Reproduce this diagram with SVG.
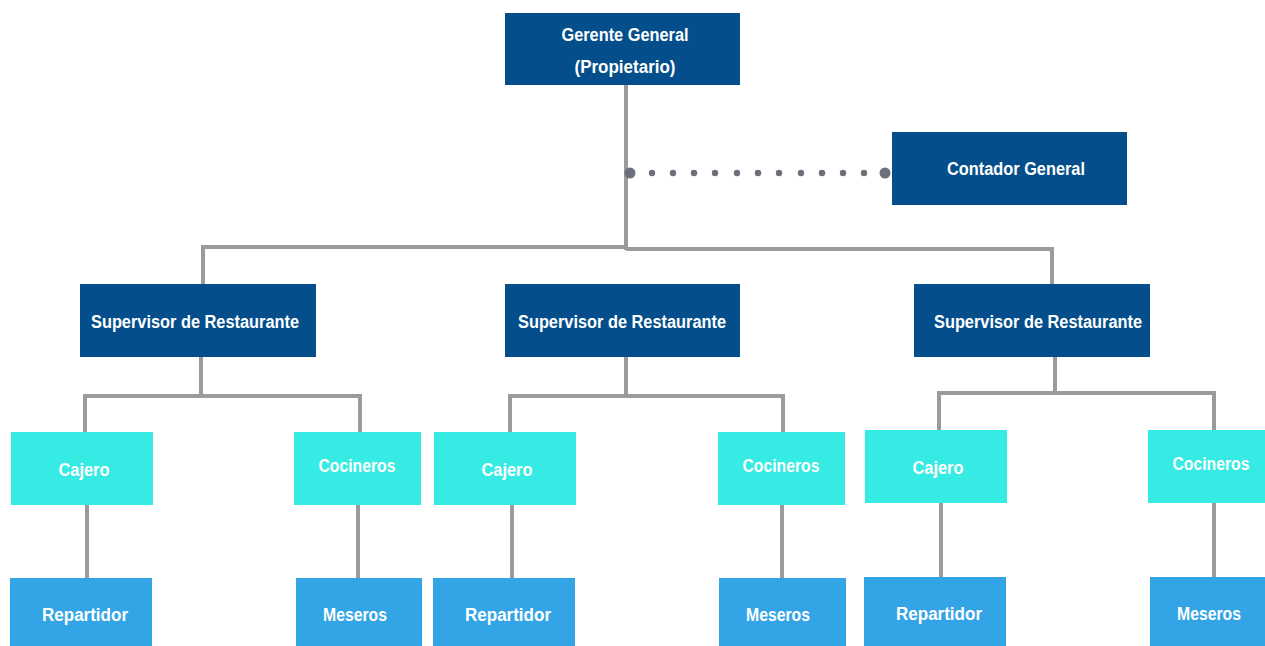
<svg xmlns="http://www.w3.org/2000/svg" width="1265" height="646" viewBox="0 0 1265 646">
<style>
.dk{fill:#044f8b}
.cy{fill:#36ebe3}
.lb{fill:#33a5e7}
.t{font-family:"Liberation Sans",Arial,sans-serif;font-weight:bold;font-size:18px;fill:#fff;text-anchor:middle}
.ln{stroke:#9b9b9b;stroke-width:4;fill:none}
.dot{fill:#6d707a}
</style>
<rect width="1265" height="646" fill="#fff"/>
<g id="connectors">
<path class="ln" d="M626 85V250M203 285V247H626M626 249H1052V285"/>
<path class="ln" d="M201 357V396M85 432V396H360V432M87 505V578M358 505V578"/>
<path class="ln" d="M626 357V396M510 432V396H783V432M512 505V578M782 505V578"/>
<path class="ln" d="M1055 357V393M939 430V393H1214V430M941 503V577M1214 503V577"/>
<g class="dot">
<circle cx="630" cy="173" r="5.5"/><circle cx="885" cy="173" r="5.5"/>
<circle cx="652" cy="173" r="3.2"/><circle cx="673" cy="173" r="3.2"/><circle cx="694" cy="173" r="3.2"/><circle cx="715" cy="173" r="3.2"/><circle cx="737" cy="173" r="3.2"/><circle cx="758" cy="173" r="3.2"/><circle cx="779" cy="173" r="3.2"/><circle cx="801" cy="173" r="3.2"/><circle cx="822" cy="173" r="3.2"/><circle cx="843" cy="173" r="3.2"/><circle cx="864" cy="173" r="3.2"/>
</g>
</g>
<g id="gerente"><rect class="dk" x="505" y="13" width="235" height="72"/><text class="t" x="625" y="41" textLength="127" lengthAdjust="spacingAndGlyphs">Gerente General</text><text class="t" x="625" y="73" textLength="101" lengthAdjust="spacingAndGlyphs">(Propietario)</text></g>
<g id="contador"><rect class="dk" x="892" y="132" width="235" height="73"/><text class="t" x="1016" y="175" textLength="138" lengthAdjust="spacingAndGlyphs">Contador General</text></g>
<g id="sup1"><rect class="dk" x="80" y="284" width="236" height="73"/><text class="t" x="195" y="328" textLength="208" lengthAdjust="spacingAndGlyphs">Supervisor de Restaurante</text></g>
<g id="sup2"><rect class="dk" x="505" y="284" width="235" height="73"/><text class="t" x="622" y="328" textLength="208" lengthAdjust="spacingAndGlyphs">Supervisor de Restaurante</text></g>
<g id="sup3"><rect class="dk" x="914" y="284" width="236" height="73"/><text class="t" x="1038" y="328" textLength="208" lengthAdjust="spacingAndGlyphs">Supervisor de Restaurante</text></g>
<g id="cajero1"><rect class="cy" x="11" y="432" width="142" height="73"/><text class="t" x="84" y="476" textLength="51" lengthAdjust="spacingAndGlyphs">Cajero</text></g>
<g id="cocineros1"><rect class="cy" x="294" y="432" width="127" height="73"/><text class="t" x="357" y="472" textLength="77" lengthAdjust="spacingAndGlyphs">Cocineros</text></g>
<g id="cajero2"><rect class="cy" x="434" y="432" width="142" height="73"/><text class="t" x="507" y="476" textLength="51" lengthAdjust="spacingAndGlyphs">Cajero</text></g>
<g id="cocineros2"><rect class="cy" x="718" y="432" width="127" height="73"/><text class="t" x="781" y="472" textLength="77" lengthAdjust="spacingAndGlyphs">Cocineros</text></g>
<g id="cajero3"><rect class="cy" x="865" y="430" width="142" height="73"/><text class="t" x="938" y="474" textLength="51" lengthAdjust="spacingAndGlyphs">Cajero</text></g>
<g id="cocineros3"><rect class="cy" x="1148" y="430" width="117" height="73"/><text class="t" x="1211" y="470" textLength="77" lengthAdjust="spacingAndGlyphs">Cocineros</text></g>
<g id="repartidor1"><rect class="lb" x="10" y="578" width="142" height="68"/><text class="t" x="85" y="621" textLength="86" lengthAdjust="spacingAndGlyphs">Repartidor</text></g>
<g id="meseros1"><rect class="lb" x="296" y="578" width="126" height="68"/><text class="t" x="355" y="621" textLength="64" lengthAdjust="spacingAndGlyphs">Meseros</text></g>
<g id="repartidor2"><rect class="lb" x="433" y="578" width="142" height="68"/><text class="t" x="508" y="621" textLength="86" lengthAdjust="spacingAndGlyphs">Repartidor</text></g>
<g id="meseros2"><rect class="lb" x="719" y="578" width="127" height="68"/><text class="t" x="778" y="621" textLength="64" lengthAdjust="spacingAndGlyphs">Meseros</text></g>
<g id="repartidor3"><rect class="lb" x="864" y="577" width="142" height="69"/><text class="t" x="939" y="620" textLength="86" lengthAdjust="spacingAndGlyphs">Repartidor</text></g>
<g id="meseros3"><rect class="lb" x="1150" y="577" width="115" height="69"/><text class="t" x="1209" y="620" textLength="64" lengthAdjust="spacingAndGlyphs">Meseros</text></g>
</svg>
